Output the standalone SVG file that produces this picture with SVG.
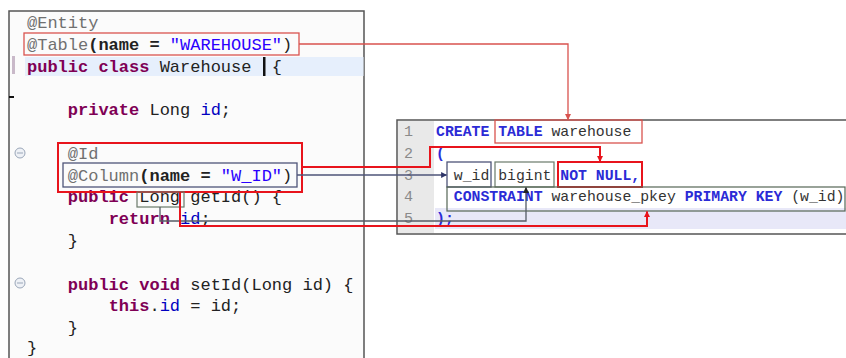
<svg xmlns="http://www.w3.org/2000/svg" width="846" height="358" viewBox="0 0 846 358">
  <style>
    .java { font-family: "Liberation Mono", "DejaVu Sans Mono", monospace; font-size: 17px; fill: #222; white-space: pre; }
    .sql { font-family: "Liberation Mono", "DejaVu Sans Mono", monospace; font-size: 14.8px; fill: #333; white-space: pre; }
    .ln { font-family: "Liberation Mono", monospace; font-size: 15px; fill: #8a8a8a; }
    .ann { fill: #707070; }
    .kw { fill: #7f0055; font-weight: bold; }
    .str { fill: #2a00ff; }
    .fld { fill: #0000c0; }
    .bold { font-weight: bold; }
    .skw { fill: #2b2bd6; font-weight: bold; }
    .panel { fill: #fbfbfb; stroke: #555; stroke-width: 1.5; }
    .box-red-thin { fill: none; stroke: #d9534f; stroke-width: 1.3; }
    .box-red { fill: none; stroke: #e8141c; stroke-width: 2; }
    .box-slate { fill: none; stroke: #4e5478; stroke-width: 1.3; }
    .box-green { fill: none; stroke: #6a7a6a; stroke-width: 1.2; }
    .line-red-thin { fill: none; stroke: #d9534f; stroke-width: 1.3; }
    .line-red { fill: none; stroke: #e8141c; stroke-width: 2; }
    .line-slate { fill: none; stroke: #4e5478; stroke-width: 1.3; }
    .line-grey { fill: none; stroke: #555c66; stroke-width: 1.3; }
  </style>
  <defs>
    <marker id="ah-red" viewBox="0 0 10 10" refX="9" refY="5" markerWidth="6" markerHeight="6" markerUnits="userSpaceOnUse" orient="auto">
      <path d="M0,0 L10,5 L0,10 z" fill="#e8141c"/>
    </marker>
    <marker id="ah-redthin" viewBox="0 0 10 10" refX="9" refY="5" markerWidth="6" markerHeight="6" markerUnits="userSpaceOnUse" orient="auto">
      <path d="M0,0 L10,5 L0,10 z" fill="#d9534f"/>
    </marker>
    <marker id="ah-slate" viewBox="0 0 10 10" refX="9" refY="5" markerWidth="6" markerHeight="6" markerUnits="userSpaceOnUse" orient="auto">
      <path d="M0,0 L10,5 L0,10 z" fill="#2e3468"/>
    </marker>
    <marker id="ah-grey" viewBox="0 0 10 10" refX="9" refY="5" markerWidth="6" markerHeight="6" markerUnits="userSpaceOnUse" orient="auto">
      <path d="M0,0 L10,5 L0,10 z" fill="#222"/>
    </marker>
  </defs>

  <rect width="846" height="358" fill="#ffffff"/>

  <!-- Java editor pane -->
  <g id="java-source">
    <rect class="panel" x="9" y="11" width="355" height="360"/>
    <rect x="25" y="57" width="338.5" height="19" fill="#e6effc"/>
    <rect x="12" y="56" width="3" height="18" fill="#c9b9c9"/>
    <rect x="9" y="96" width="5" height="2" fill="#111"/>
    <rect x="263" y="57" width="2.5" height="19" fill="#111"/>
    <g fill="none" stroke="#9aa6b8" stroke-width="1">
      <circle cx="20" cy="153" r="5" fill="#eef1f6"/>
      <line x1="17" y1="153" x2="23" y2="153"/>
      <circle cx="20" cy="283" r="5" fill="#eef1f6"/>
      <line x1="17" y1="283" x2="23" y2="283"/>
    </g>
    <text class="java" x="27" y="28"><tspan class="ann">@Entity</tspan></text>
    <text class="java" x="27" y="49.8"><tspan class="ann">@Table</tspan><tspan class="bold">(name = </tspan><tspan class="str">"WAREHOUSE"</tspan>)</text>
    <text class="java" x="27" y="71.6"><tspan class="kw">public</tspan> <tspan class="kw">class</tspan> Warehouse  {</text>
    <text class="java" x="27" y="115.2">    <tspan class="kw">private</tspan> Long <tspan class="fld">id</tspan>;</text>
    <text class="java" x="27" y="158.8">    <tspan class="ann">@Id</tspan></text>
    <text class="java" x="27" y="180.6">    <tspan class="ann">@Column</tspan><tspan class="bold">(name = </tspan><tspan class="str">"W_ID"</tspan>)</text>
    <text class="java" x="27" y="202.4">    <tspan class="kw">public</tspan> Long getId() {</text>
    <text class="java" x="27" y="224.2">        <tspan class="kw">return</tspan> <tspan class="fld">id</tspan>;</text>
    <text class="java" x="27" y="246">    }</text>
    <text class="java" x="27" y="289.6">    <tspan class="kw">public</tspan> <tspan class="kw">void</tspan> setId(Long id) {</text>
    <text class="java" x="27" y="311.4">        <tspan class="kw">this</tspan>.<tspan class="fld">id</tspan> = id;</text>
    <text class="java" x="27" y="333.2">    }</text>
    <text class="java" x="27" y="352.5">}</text>
  </g>

  <!-- SQL editor pane -->
  <g id="sql-source">
    <rect x="397" y="120" width="455" height="114" fill="#ffffff" stroke="#555" stroke-width="1.5"/>
    <rect x="398" y="121" width="36" height="112" fill="#e9e9e9"/>
    <rect x="435" y="208" width="411" height="21" fill="#e8e8f8"/>
    <text class="ln" x="404" y="136">1</text>
    <text class="ln" x="404" y="158">2</text>
    <text class="ln" x="404" y="179.5">3</text>
    <text class="ln" x="404" y="201">4</text>
    <text class="ln" x="404" y="223">5</text>
    <text class="sql" x="436" y="136"><tspan class="skw">CREATE</tspan> <tspan class="skw">TABLE</tspan> warehouse</text>
    <text class="sql" x="436" y="158"><tspan class="skw">(</tspan></text>
    <text class="sql" x="436" y="179.5">  w_id bigint <tspan class="skw">NOT NULL,</tspan></text>
    <text class="sql" x="436" y="201">  <tspan class="skw">CONSTRAINT</tspan> warehouse_pkey <tspan class="skw">PRIMARY</tspan> <tspan class="skw">KEY</tspan> (w_id)</text>
    <text class="sql" x="436" y="223"><tspan class="skw">);</tspan></text>
  </g>

  <!-- highlighted fragments -->
  <g id="java-table-annotation"><rect class="box-red-thin" x="24" y="33" width="275" height="22"/></g>
  <g id="java-id-block"><rect class="box-red" x="58" y="143" width="244" height="49"/></g>
  <g id="java-column-annotation"><rect class="box-slate" x="63" y="163" width="234" height="24"/></g>
  <g id="java-long-type"><rect class="box-green" x="137" y="192" width="47" height="15"/></g>
  <g id="sql-table-name"><rect class="box-red-thin" x="495" y="120" width="147" height="23"/></g>
  <g id="sql-column-name"><rect class="box-slate" x="447" y="162" width="44" height="25"/></g>
  <g id="sql-column-type"><rect class="box-green" x="495" y="162" width="59" height="25"/></g>
  <g id="sql-not-null"><rect class="box-red" x="558" y="162" width="84" height="25"/></g>
  <g id="sql-primary-key"><rect class="box-green" x="447" y="187" width="398" height="24" style="stroke:#556655"/></g>

  <!-- connectors -->
  <g id="connectors">
    <polyline class="line-red-thin" points="299,44 568,44 568,119.5" marker-end="url(#ah-redthin)"/>
    <polyline class="line-red" points="302,167 430,167 430,147 600,147 600,161.5" marker-end="url(#ah-red)"/>
    <polyline class="line-slate" points="297,175 446.5,175" marker-end="url(#ah-slate)"/>
    <polyline class="line-grey" points="160,207 160,221 526,221 526,187.5" marker-end="url(#ah-grey)"/>
    <polyline class="line-red" points="180,192 180,226 647,226 647,211.5" marker-end="url(#ah-red)"/>
  </g>
</svg>
